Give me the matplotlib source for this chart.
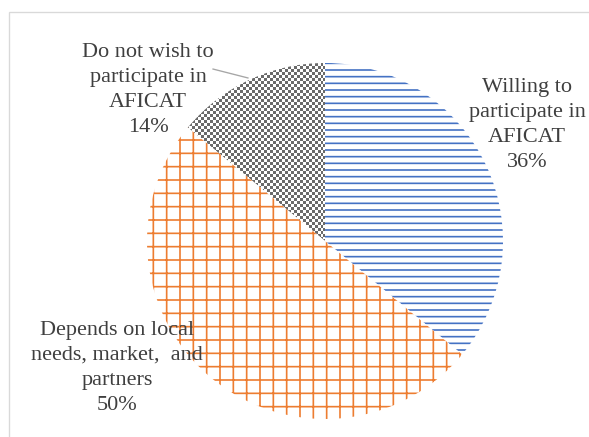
import numpy as np
import matplotlib.pyplot as plt
from matplotlib.colors import ListedColormap
from matplotlib.patches import Rectangle

# Survey responses on AFICAT participation
labels = ['Willing to\nparticipate in\nAFICAT',
          'Depends on local\nneeds, market,  and\npartners',
          'Do not wish to\nparticipate in\nAFICAT']
shares = [36, 50, 14]
hatch_colors = ['#4472C4', '#ED7D31', '#6a6a6a']
hatches = ['--', '+', None]

DPI = 80
W, H = 589, 437

plt.rcParams['font.family'] = ['Liberation Serif', 'DejaVu Serif']
plt.rcParams['hatch.linewidth'] = 1.5

fig = plt.figure(figsize=(W / DPI, H / DPI), dpi=DPI)

# pie centre and radius in pixels
cx, cy, r = 325, 241, 178
ax = fig.add_axes([(cx - r) / W, 1 - (cy + r) / H, 2 * r / W, 2 * r / H])

wedges, _ = ax.pie(shares, startangle=90, counterclock=False,
                   colors=['white', 'white', 'none'], hatch=hatches,
                   wedgeprops=dict(linewidth=0))
for w, c in zip(wedges, hatch_colors):
    w.set_edgecolor(c)
    w.set_linewidth(0)

# checkerboard fill for the small slice
n = 119
ii, jj = np.indices((n, n))
checker = (ii + jj) % 2
img = ax.imshow(checker, cmap=ListedColormap([hatch_colors[2], '#ffffff']),
                vmin=0, vmax=1, extent=(-1, 1, -1, 1),
                interpolation='nearest', zorder=0)
img.set_clip_path(wedges[2])

ax.set_xlim(-1, 1)
ax.set_ylim(-1, 1)
ax.set_aspect('equal')
ax.axis('off')

# label positions in pie units
label_pos = [(1.135, 0.652), (-1.169, -0.713), (-0.994, 0.848)]
for lab, s, (x, y) in zip(labels, shares, label_pos):
    ax.text(x, y, f'{lab}\n{s}%', ha='center', va='center', fontsize=20,
            color='#3f3f3f', linespacing=1.42, clip_on=False, zorder=5)

# leader line for the small slice
ax.plot([-0.629, -0.433], [0.966, 0.916], color='#a6a6a6', lw=1.2,
        clip_on=False)

# outer frame
fig.add_artist(Rectangle((9 / W, -0.1), 1.2, 1.1 - 12 / H,
                         transform=fig.transFigure, fill=False,
                         edgecolor='#d9d9d9', linewidth=1.2))

fig.savefig('out.png', dpi=DPI)
